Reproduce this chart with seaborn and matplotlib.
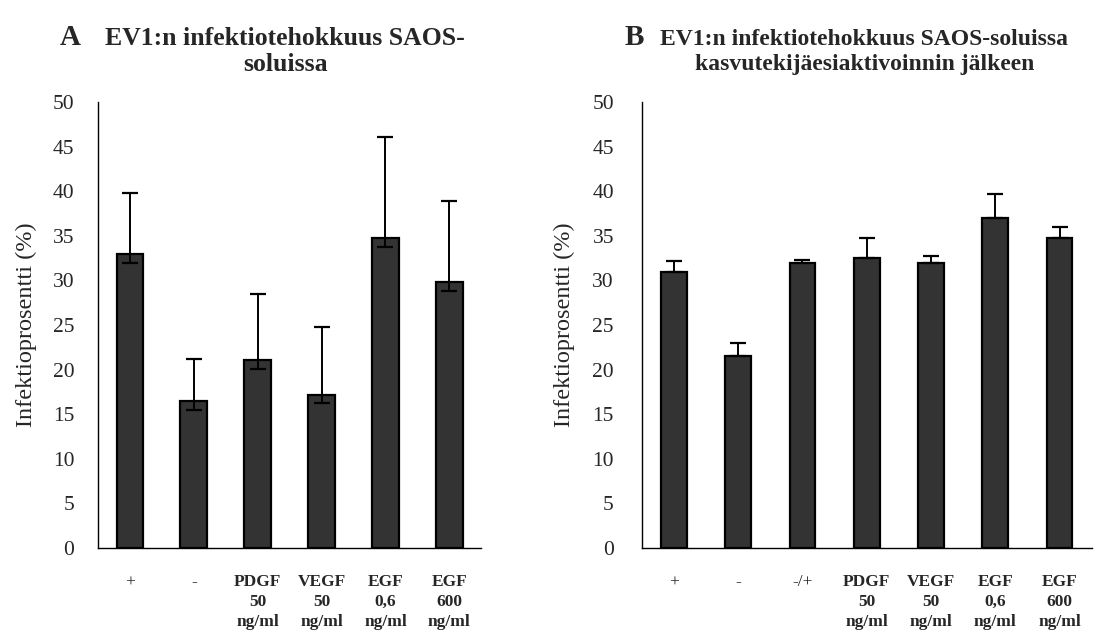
import numpy as np
import pandas as pd
import seaborn as sns
import matplotlib.pyplot as plt

sns.set_theme(style="white")
plt.rcParams['font.family'] = ['Liberation Serif', 'DejaVu Serif']

# paneeli A
labels_a = ['+', '-', 'PDGF\n50\nng/ml', 'VEGF\n50\nng/ml', 'EGF\n0,6\nng/ml', 'EGF\n600\nng/ml']
values_a = [33.0, 16.5, 21.1, 17.2, 34.7, 29.8]
err_up_a = [6.8, 4.7, 7.4, 7.6, 11.4, 9.1]
err_dn_a = [1.0, 1.0, 1.0, 1.0, 1.0, 1.0]

# paneeli B
labels_b = ['+', '-', '-/+', 'PDGF\n50\nng/ml', 'VEGF\n50\nng/ml', 'EGF\n0,6\nng/ml', 'EGF\n600\nng/ml']
values_b = [30.9, 21.5, 31.9, 32.5, 31.9, 37.0, 34.8]
err_up_b = [1.3, 1.5, 0.4, 2.2, 0.8, 2.7, 1.2]

yticks = list(range(0, 51, 5))

BAR = '#333333'


def draw_panel(ax, labels, values, up, down, width, tickpad):
    df = pd.DataFrame({'ryhma': labels, 'arvo': values})
    sns.barplot(data=df, x='ryhma', y='arvo', ax=ax, color=BAR, width=width,
                edgecolor='black', linewidth=1.6, saturation=1)
    xs = [p.get_x() + p.get_width() / 2 for p in ax.patches]
    ax.errorbar(xs, values, yerr=[down, up], fmt='none', ecolor='black',
                elinewidth=1.4, capsize=5.5, capthick=1.6, zorder=5)
    ax.set_ylim(0, 50)
    ax.set_xlim(-0.5, len(labels) - 0.5)
    ax.set_yticks(yticks)
    ax.set_yticklabels([str(t) for t in yticks], fontsize=15.5)
    ax.set_xticks(range(len(labels)))
    ax.set_xticklabels(labels, fontsize=12.5, linespacing=1.3)
    for t in ax.get_xticklabels():
        if '\n' in t.get_text():
            t.set_fontweight('bold')
    ax.tick_params(axis='x', length=0, pad=19)
    ax.tick_params(axis='y', length=0, pad=tickpad)
    ax.set_xlabel('')
    ax.set_ylabel('Infektioprosentti (%)', fontsize=17.5)
    for s in ['top', 'right']:
        ax.spines[s].set_visible(False)
    for s in ['left', 'bottom']:
        ax.spines[s].set_color('black')
        ax.spines[s].set_linewidth(1.0)


fig = plt.figure(figsize=(11.14, 6.31), dpi=100)
ax1 = fig.add_axes([0.088, 0.1315, 0.344, 0.707])
ax2 = fig.add_axes([0.576, 0.1315, 0.404, 0.707])

draw_panel(ax1, labels_a, values_a, err_up_a, err_dn_a, 0.42, 17)
draw_panel(ax2, labels_b, values_b, err_up_b, [0] * len(values_b), 0.40, 20)
ax1.yaxis.set_label_coords(-0.158, 0.5)
ax2.yaxis.set_label_coords(-0.149, 0.5)

fig.text(0.063, 0.941, 'A', fontsize=21, fontweight='bold', ha='center', va='center')
fig.text(0.256, 0.918, 'EV1:n infektiotehokkuus SAOS-\nsoluissa', fontsize=18.5,
         fontweight='bold', ha='center', va='center', linespacing=1.15)
fig.text(0.569, 0.941, 'B', fontsize=21, fontweight='bold', ha='center', va='center')
fig.text(0.776, 0.918, 'EV1:n infektiotehokkuus SAOS-soluissa\nkasvutekijäesiaktivoinnin jälkeen',
         fontsize=17, fontweight='bold', ha='center', va='center', linespacing=1.25)

fig.savefig('out.png', dpi=100)
